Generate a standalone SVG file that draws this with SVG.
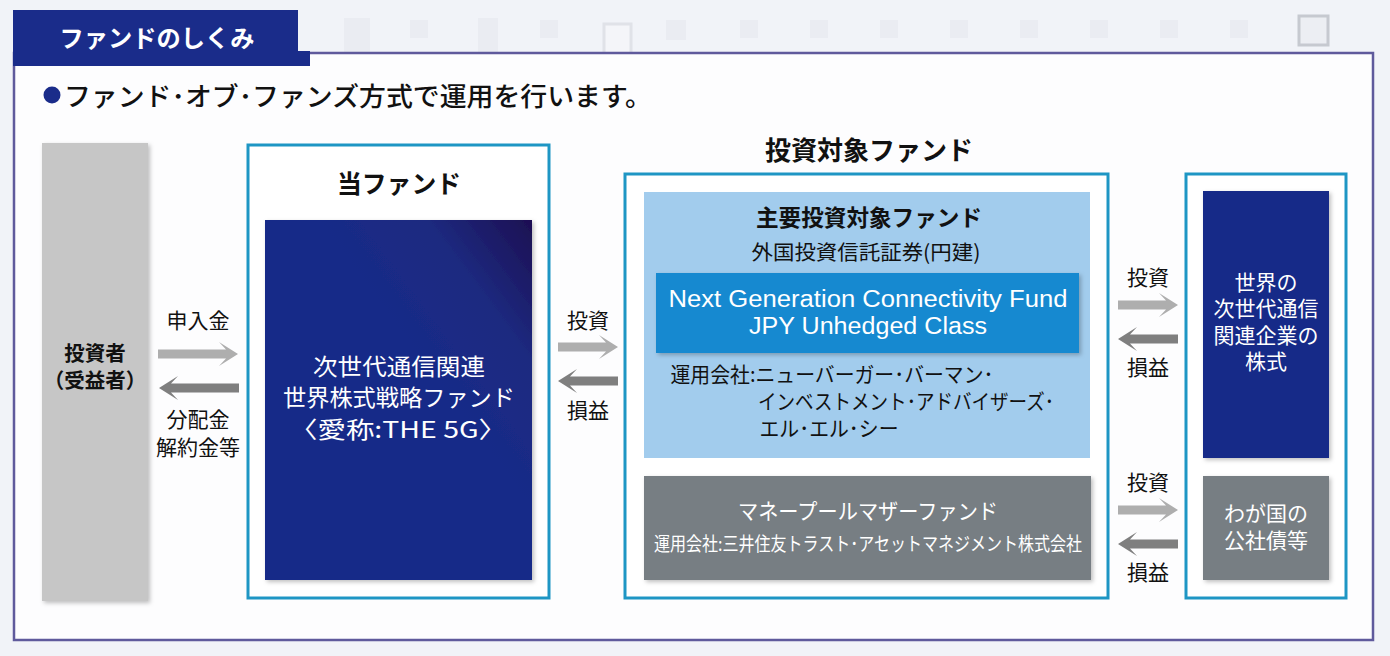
<svg xmlns="http://www.w3.org/2000/svg" width="1390" height="656" viewBox="0 0 1390 656">
<style>
text{font-family:"Noto Sans CJK JP","Noto Sans",sans-serif;fill:#111;text-anchor:middle}
.w{fill:#fff}
.b{font-weight:700}
.l{font-family:"Noto Sans CJK JP",sans-serif;font-size:21px}
.box{fill:#fff;stroke:#1e96c4;stroke-width:3}
.f{fill:#eaecf2}
.up{fill:#aeaeae}
.dn{fill:#7f7f7f}
</style>
<defs>
<linearGradient id="g" x1="0" y1="1" x2="1" y2="0">
<stop offset="0.6" stop-color="#182b88"/>
<stop offset="0.8" stop-color="#1d2a80"/>
<stop offset="1" stop-color="#1d0f52"/>
</linearGradient>
<filter id="s" x="-5%" y="-5%" width="112%" height="112%"><feDropShadow dx="2" dy="2" stdDeviation="2" flood-color="#000" flood-opacity="0.25"/></filter>
<path id="ar" d="M0-4.5H48L41-12 60 0 41 12 48 4.5H0Z"/>
<path id="al" d="M60-4.5H12L19-12 0 0 19 12 12 4.5H60Z"/>
<path id="ar2" d="M0-4.5H68L61-12 80 0 61 12 68 4.5H0Z"/>
<path id="al2" d="M80-4.5H12L19-12 0 0 19 12 12 4.5H80Z"/>
</defs>
<rect width="1390" height="656" fill="#f1f3f8"/>
<g id="background">
<rect class="f" x="344" y="18" width="26" height="42"/><rect class="f" x="410" y="20" width="18" height="18"/><rect class="f" x="478" y="18" width="20" height="40"/><rect class="f" x="540" y="20" width="18" height="18"/>
<rect x="604" y="24" width="27" height="30" fill="#f4f5f9" stroke="#e0e2e8" stroke-width="3"/>
<rect class="f" x="666" y="20" width="20" height="20"/><rect class="f" x="740" y="20" width="18" height="18"/><rect class="f" x="810" y="20" width="18" height="18"/><rect class="f" x="880" y="20" width="18" height="18"/><rect class="f" x="950" y="20" width="18" height="18"/><rect class="f" x="1020" y="20" width="18" height="18"/><rect class="f" x="1090" y="20" width="18" height="18"/><rect class="f" x="1160" y="20" width="18" height="18"/><rect class="f" x="1230" y="20" width="18" height="18"/>
<rect x="1299" y="16" width="29" height="29" fill="#eceef3" stroke="#c6c9d0" stroke-width="3"/>
<rect x="14" y="53" width="1359" height="587" fill="#fdfdfe" stroke="#5f5a9c" stroke-width="2.5"/>
</g>
<g id="header">
<path d="M13 10H298V51H310V66H13Z" fill="#1a2c8a"/>
<text class="w b" x="157" y="47" font-size="24.4" textLength="195" lengthAdjust="spacingAndGlyphs">ファンドのしくみ</text>
<circle cx="52" cy="95" r="8.5" fill="#1a2c8a"/>
<text x="358" y="106" font-size="26" textLength="588" lengthAdjust="spacingAndGlyphs" font-weight="500">ファンド･オブ･ファンズ方式で運用を行います。</text>
</g>
<g id="investor">
<rect x="42" y="143" width="106" height="458" fill="#c6c6c6" filter="url(#s)"/>
<text class="b" x="95" y="361" font-size="20.5">投資者</text>
<text class="b" x="95" y="388" font-size="20.5">（受益者）</text>
</g>
<g id="this-fund">
<rect class="box" x="248" y="145" width="301" height="453"/>
<text class="b" x="399" y="193" font-size="25" textLength="124" lengthAdjust="spacingAndGlyphs">当ファンド</text>
<rect x="265" y="220" width="267" height="360" fill="url(#g)" filter="url(#s)"/>
<text class="w" x="399" y="375" font-size="23" textLength="172" lengthAdjust="spacingAndGlyphs">次世代通信関連</text>
<text class="w" x="399" y="406" font-size="23" textLength="232" lengthAdjust="spacingAndGlyphs">世界株式戦略ファンド</text>
<text class="w" x="398" y="438" font-size="23" textLength="218" lengthAdjust="spacingAndGlyphs">〈愛称:THE 5G〉</text>
</g>
<text class="b" x="869" y="160" font-size="26" textLength="208" lengthAdjust="spacingAndGlyphs">投資対象ファンド</text>
<g id="target-fund">
<rect class="box" x="625" y="174" width="483" height="424"/>
</g>
<g id="main-fund">
<rect x="644" y="192" width="446" height="266" fill="#a2cced"/>
<text class="b" x="869" y="226" font-size="22.6" textLength="226" lengthAdjust="spacingAndGlyphs">主要投資対象ファンド</text>
<text x="866" y="260" font-size="20.8" textLength="229" lengthAdjust="spacingAndGlyphs">外国投資信託証券(円建)</text>
<rect x="656" y="273" width="423" height="80" fill="#1789d0" filter="url(#s)"/>
<text class="w" x="868" y="307" font-size="23" textLength="399" lengthAdjust="spacingAndGlyphs" style="font-family:'Liberation Sans',sans-serif">Next Generation Connectivity Fund</text>
<text class="w" x="868" y="334" font-size="23" textLength="238" lengthAdjust="spacingAndGlyphs" style="font-family:'Liberation Sans',sans-serif">JPY Unhedged Class</text>
<text x="832" y="382" font-size="21" textLength="323" lengthAdjust="spacingAndGlyphs">運用会社:ニューバーガー･バーマン･</text>
<text x="906" y="409" font-size="21" textLength="296" lengthAdjust="spacingAndGlyphs">インベストメント･アドバイザーズ･</text>
<text x="829" y="436" font-size="21" textLength="139" lengthAdjust="spacingAndGlyphs">エル･エル･シー</text>
</g>
<g id="money-pool">
<rect x="644" y="476" width="447" height="104" fill="#777e83" filter="url(#s)"/>
<text class="w" x="868" y="519" font-size="21.5" textLength="260" lengthAdjust="spacingAndGlyphs">マネープールマザーファンド</text>
<text class="w" x="868" y="551" font-size="19" textLength="428" lengthAdjust="spacingAndGlyphs">運用会社:三井住友トラスト･アセットマネジメント株式会社</text>
</g>
<g id="assets">
<rect class="box" x="1186" y="174" width="160" height="424"/>
</g>
<g id="equities">
<rect x="1203" y="191" width="126" height="267" fill="#182b88" filter="url(#s)"/>
<text class="w" x="1266" y="290" font-size="21">世界の</text>
<text class="w" x="1266" y="316" font-size="21">次世代通信</text>
<text class="w" x="1266" y="343" font-size="21">関連企業の</text>
<text class="w" x="1266" y="369" font-size="21">株式</text>
</g>
<g id="bonds">
<rect x="1203" y="476" width="126" height="104" fill="#777e83" filter="url(#s)"/>
<text class="w" x="1266" y="521" font-size="21">わが国の</text>
<text class="w" x="1266" y="548" font-size="21">公社債等</text>
</g>
<g id="connectors">
<use href="#ar2" class="up" x="158" y="354"/>
<use href="#al2" class="dn" x="159" y="388"/>
<use href="#ar" class="up" x="558" y="347"/>
<use href="#al" class="dn" x="558" y="381"/>
<use href="#ar" class="up" x="1118" y="305"/>
<use href="#al" class="dn" x="1118" y="339"/>
<use href="#ar" class="up" x="1118" y="510"/>
<use href="#al" class="dn" x="1118" y="544"/>
</g>
<g id="connector-labels">
<text class="l" x="198" y="328">申入金</text>
<text class="l" x="198" y="427">分配金</text>
<text class="l" x="198" y="455">解約金等</text>
<text class="l" x="588" y="328">投資</text>
<text class="l" x="588" y="418">損益</text>
<text class="l" x="1148" y="285">投資</text>
<text class="l" x="1148" y="375">損益</text>
<text class="l" x="1148" y="490">投資</text>
<text class="l" x="1148" y="580">損益</text>
</g>
</svg>
